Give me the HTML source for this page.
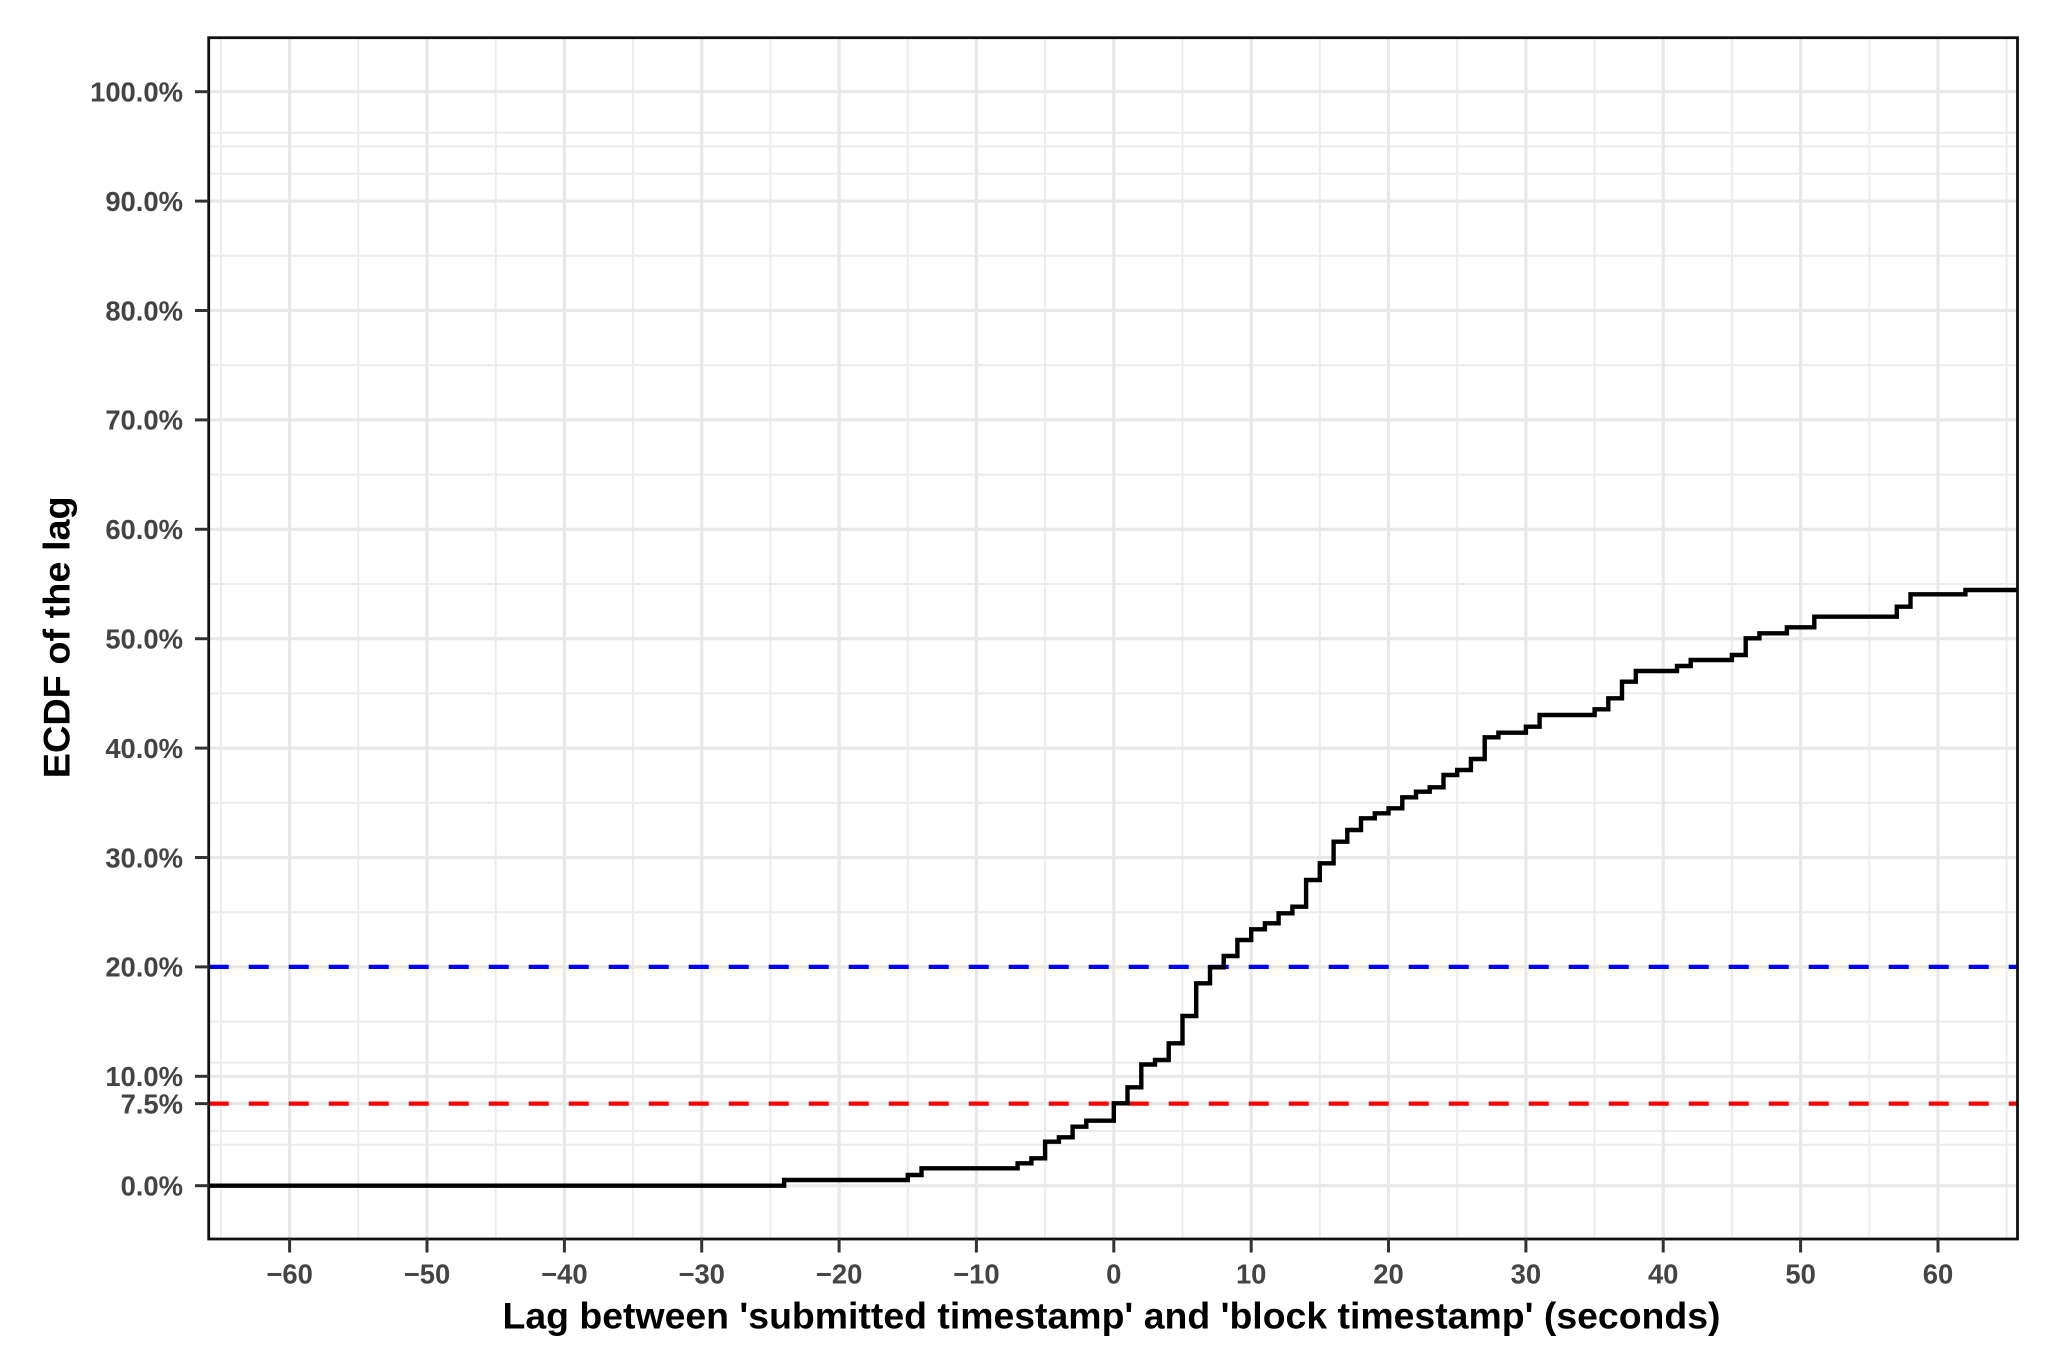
<!DOCTYPE html>
<html>
<head>
<meta charset="utf-8">
<style>
  html, body { margin: 0; padding: 0; background: #ffffff; }
  svg { display: block; }
  text { font-family: "Liberation Sans", Arial, sans-serif; font-weight: bold; }
</style>
</head>
<body>
<svg width="2048" height="1370" viewBox="0 0 2048 1370" xmlns="http://www.w3.org/2000/svg">
  <rect x="0" y="0" width="2048" height="1370" fill="#ffffff"/>

  <!-- minor grid -->
  <g stroke="#ececec" stroke-width="2" fill="none">
    <line x1="220.9" y1="37.7" x2="220.9" y2="1239"/>
    <line x1="358.3" y1="37.7" x2="358.3" y2="1239"/>
    <line x1="495.7" y1="37.7" x2="495.7" y2="1239"/>
    <line x1="633.0" y1="37.7" x2="633.0" y2="1239"/>
    <line x1="770.4" y1="37.7" x2="770.4" y2="1239"/>
    <line x1="907.8" y1="37.7" x2="907.8" y2="1239"/>
    <line x1="1045.1" y1="37.7" x2="1045.1" y2="1239"/>
    <line x1="1182.5" y1="37.7" x2="1182.5" y2="1239"/>
    <line x1="1319.8" y1="37.7" x2="1319.8" y2="1239"/>
    <line x1="1457.2" y1="37.7" x2="1457.2" y2="1239"/>
    <line x1="1594.6" y1="37.7" x2="1594.6" y2="1239"/>
    <line x1="1731.9" y1="37.7" x2="1731.9" y2="1239"/>
    <line x1="1869.3" y1="37.7" x2="1869.3" y2="1239"/>
    <line x1="2006.6" y1="37.7" x2="2006.6" y2="1239"/>

    <line x1="208.7" y1="1144.7" x2="2017.5" y2="1144.7"/>
    <line x1="208.7" y1="1131.0" x2="2017.5" y2="1131.0"/>
    <line x1="208.7" y1="1062.6" x2="2017.5" y2="1062.6"/>
    <line x1="208.7" y1="1021.6" x2="2017.5" y2="1021.6"/>
    <line x1="208.7" y1="912.2" x2="2017.5" y2="912.2"/>
    <line x1="208.7" y1="802.8" x2="2017.5" y2="802.8"/>
    <line x1="208.7" y1="693.4" x2="2017.5" y2="693.4"/>
    <line x1="208.7" y1="584.0" x2="2017.5" y2="584.0"/>
    <line x1="208.7" y1="474.6" x2="2017.5" y2="474.6"/>
    <line x1="208.7" y1="365.2" x2="2017.5" y2="365.2"/>
    <line x1="208.7" y1="255.8" x2="2017.5" y2="255.8"/>
    <line x1="208.7" y1="173.75" x2="2017.5" y2="173.75"/>
    <line x1="208.7" y1="146.4" x2="2017.5" y2="146.4"/>
    <line x1="208.7" y1="132.7" x2="2017.5" y2="132.7"/>
  </g>

  <!-- major grid -->
  <g stroke="#e8e8e8" stroke-width="3.2" fill="none">
    <line x1="289.6" y1="37.7" x2="289.6" y2="1239"/>
    <line x1="427.0" y1="37.7" x2="427.0" y2="1239"/>
    <line x1="564.4" y1="37.7" x2="564.4" y2="1239"/>
    <line x1="701.7" y1="37.7" x2="701.7" y2="1239"/>
    <line x1="839.1" y1="37.7" x2="839.1" y2="1239"/>
    <line x1="976.4" y1="37.7" x2="976.4" y2="1239"/>
    <line x1="1113.8" y1="37.7" x2="1113.8" y2="1239"/>
    <line x1="1251.2" y1="37.7" x2="1251.2" y2="1239"/>
    <line x1="1388.5" y1="37.7" x2="1388.5" y2="1239"/>
    <line x1="1525.9" y1="37.7" x2="1525.9" y2="1239"/>
    <line x1="1663.2" y1="37.7" x2="1663.2" y2="1239"/>
    <line x1="1800.6" y1="37.7" x2="1800.6" y2="1239"/>
    <line x1="1938.0" y1="37.7" x2="1938.0" y2="1239"/>

    <line x1="208.7" y1="1185.7" x2="2017.5" y2="1185.7"/>
    <line x1="208.7" y1="1103.65" x2="2017.5" y2="1103.65"/>
    <line x1="208.7" y1="1076.3" x2="2017.5" y2="1076.3"/>
    <line x1="208.7" y1="966.9" x2="2017.5" y2="966.9"/>
    <line x1="208.7" y1="857.5" x2="2017.5" y2="857.5"/>
    <line x1="208.7" y1="748.1" x2="2017.5" y2="748.1"/>
    <line x1="208.7" y1="638.7" x2="2017.5" y2="638.7"/>
    <line x1="208.7" y1="529.3" x2="2017.5" y2="529.3"/>
    <line x1="208.7" y1="419.9" x2="2017.5" y2="419.9"/>
    <line x1="208.7" y1="310.5" x2="2017.5" y2="310.5"/>
    <line x1="208.7" y1="201.1" x2="2017.5" y2="201.1"/>
    <line x1="208.7" y1="91.7" x2="2017.5" y2="91.7"/>
  </g>

  <!-- reference dashed lines -->
  <line x1="208.7" y1="966.9" x2="2017.5" y2="966.9" stroke="#0000ff" stroke-width="4.2" stroke-dasharray="20 20"/>
  <line x1="208.7" y1="1103.65" x2="2017.5" y2="1103.65" stroke="#ff0000" stroke-width="4.2" stroke-dasharray="20 20"/>

  <!-- ECDF step curve -->
  <path fill="none" stroke="#000000" stroke-width="4.4" stroke-linejoin="miter" d="M208.7 1185.7 H784.1 V1180 H907.8 V1175 H921.5 V1168.3 H1017.6 V1163.3 H1031.4 V1158.3 H1045.1 V1141.7 H1058.9 V1137.3 H1072.6 V1126.7 H1086.3 V1120.7 H1113.8 V1103.3 H1127.5 V1087.3 H1141.3 V1064.5 H1155 V1060 H1168.7 V1043.3 H1182.5 V1016 H1196.2 V983.3 H1210 V967.3 H1223.7 V956 H1237.4 V940 H1251.2 V929.3 H1264.9 V923.3 H1278.6 V913.3 H1292.4 V906.7 H1306.1 V880 H1319.8 V863.3 H1333.6 V841.7 H1347.3 V830 H1361 V818.3 H1374.8 V813.3 H1388.5 V808.3 H1402.3 V797.3 H1416 V791.7 H1429.7 V787.3 H1443.5 V775 H1457.2 V770 H1470.9 V759 H1484.7 V737.3 H1498.4 V732.7 H1525.9 V726.7 H1539.6 V715 H1594.6 V709.3 H1608.3 V698.3 H1622 V681.7 H1635.8 V671 H1677 V666 H1690.7 V660 H1731.9 V655 H1745.7 V638.3 H1759.4 V633.3 H1786.9 V627.3 H1814.3 V616.7 H1896.8 V606.7 H1910.5 V594.3 H1965.4 V590 H2017.5"/>

  <!-- panel border -->
  <rect x="208.7" y="37.7" width="1808.8" height="1201.3" fill="none" stroke="#111111" stroke-width="2.8"/>

  <!-- y ticks -->
  <g stroke="#333333" stroke-width="3">
    <line x1="195" y1="1185.7" x2="208.7" y2="1185.7"/>
    <line x1="195" y1="1103.65" x2="208.7" y2="1103.65"/>
    <line x1="195" y1="1076.3" x2="208.7" y2="1076.3"/>
    <line x1="195" y1="966.9" x2="208.7" y2="966.9"/>
    <line x1="195" y1="857.5" x2="208.7" y2="857.5"/>
    <line x1="195" y1="748.1" x2="208.7" y2="748.1"/>
    <line x1="195" y1="638.7" x2="208.7" y2="638.7"/>
    <line x1="195" y1="529.3" x2="208.7" y2="529.3"/>
    <line x1="195" y1="419.9" x2="208.7" y2="419.9"/>
    <line x1="195" y1="310.5" x2="208.7" y2="310.5"/>
    <line x1="195" y1="201.1" x2="208.7" y2="201.1"/>
    <line x1="195" y1="91.7" x2="208.7" y2="91.7"/>
  </g>

  <!-- x ticks -->
  <g stroke="#333333" stroke-width="3">
    <line x1="289.6" y1="1239" x2="289.6" y2="1252.5"/>
    <line x1="427.0" y1="1239" x2="427.0" y2="1252.5"/>
    <line x1="564.4" y1="1239" x2="564.4" y2="1252.5"/>
    <line x1="701.7" y1="1239" x2="701.7" y2="1252.5"/>
    <line x1="839.1" y1="1239" x2="839.1" y2="1252.5"/>
    <line x1="976.4" y1="1239" x2="976.4" y2="1252.5"/>
    <line x1="1113.8" y1="1239" x2="1113.8" y2="1252.5"/>
    <line x1="1251.2" y1="1239" x2="1251.2" y2="1252.5"/>
    <line x1="1388.5" y1="1239" x2="1388.5" y2="1252.5"/>
    <line x1="1525.9" y1="1239" x2="1525.9" y2="1252.5"/>
    <line x1="1663.2" y1="1239" x2="1663.2" y2="1252.5"/>
    <line x1="1800.6" y1="1239" x2="1800.6" y2="1252.5"/>
    <line x1="1938.0" y1="1239" x2="1938.0" y2="1252.5"/>
  </g>

  <!-- y tick labels -->
  <g fill="#444444" font-size="27.4" text-anchor="end">
    <text x="183" y="1195.5">0.0%</text>
    <text x="183" y="1113.5">7.5%</text>
    <text x="183" y="1086.1">10.0%</text>
    <text x="183" y="976.7">20.0%</text>
    <text x="183" y="867.3">30.0%</text>
    <text x="183" y="757.9">40.0%</text>
    <text x="183" y="648.5">50.0%</text>
    <text x="183" y="539.1">60.0%</text>
    <text x="183" y="429.7">70.0%</text>
    <text x="183" y="320.3">80.0%</text>
    <text x="183" y="210.9">90.0%</text>
    <text x="183" y="101.5">100.0%</text>
  </g>

  <!-- x tick labels -->
  <g fill="#444444" font-size="27.4" text-anchor="middle">
    <text x="289.6" y="1283.3">−60</text>
    <text x="427.0" y="1283.3">−50</text>
    <text x="564.4" y="1283.3">−40</text>
    <text x="701.7" y="1283.3">−30</text>
    <text x="839.1" y="1283.3">−20</text>
    <text x="976.4" y="1283.3">−10</text>
    <text x="1113.8" y="1283.3">0</text>
    <text x="1251.2" y="1283.3">10</text>
    <text x="1388.5" y="1283.3">20</text>
    <text x="1525.9" y="1283.3">30</text>
    <text x="1663.2" y="1283.3">40</text>
    <text x="1800.6" y="1283.3">50</text>
    <text x="1938.0" y="1283.3">60</text>
  </g>

  <!-- axis titles -->
  <text x="1111.5" y="1328.5" font-size="37" fill="#000000" text-anchor="middle" textLength="1218" lengthAdjust="spacingAndGlyphs">Lag between 'submitted timestamp' and 'block timestamp' (seconds)</text>
  <text transform="translate(69.3,637.3) rotate(-90)" x="0" y="0" font-size="37" fill="#000000" text-anchor="middle" textLength="282" lengthAdjust="spacingAndGlyphs">ECDF of the lag</text>
</svg>
</body>
</html>
